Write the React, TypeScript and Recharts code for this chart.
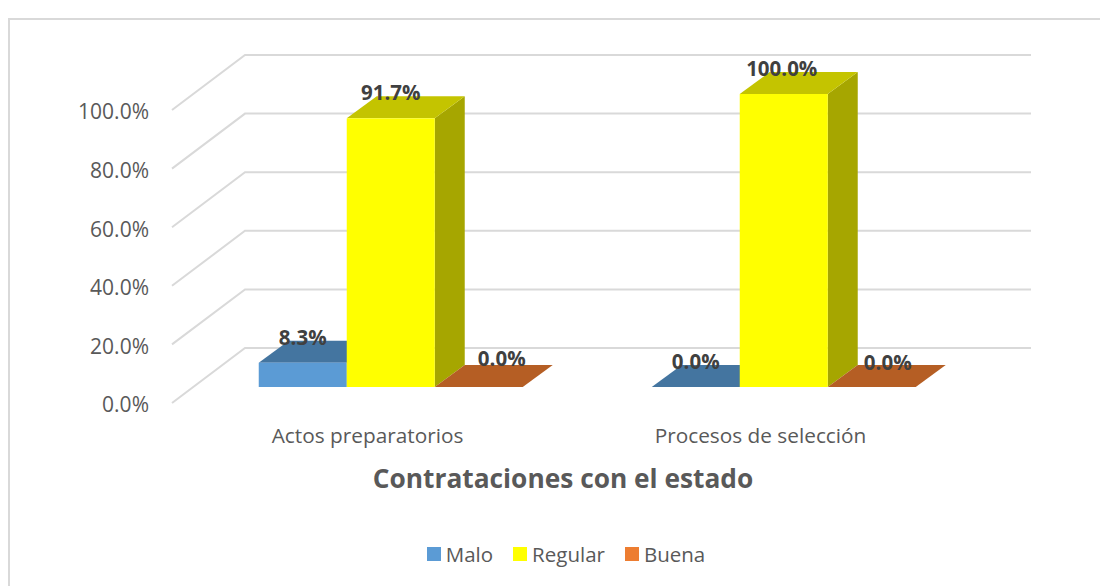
import { Bar, BarChart, CartesianGrid, Label, LabelList, Legend, XAxis, YAxis } from "recharts";

const categories = ["Actos preparatorios", "Procesos de selección"];
const malo = [8.3, 0];
const regular = [91.7, 100];
const buena = [0, 0];
const yTicks = [0, 20, 40, 60, 80, 100];

const data = categories.map((name, i) => ({
  name,
  Malo: malo[i],
  Regular: regular[i],
  Buena: buena[i],
}));

const FONT = "'Open Sans', sans-serif";
const TEXT = "#595959";
const GRID = "#D9D9D9";

// fake 3D: how far the back wall sits from the front of the floor
const WALL_DX = 73;
const WALL_DY = -55;
// bars stand part way into the floor
const BAR_DX = 21.5;
const BAR_DY = -16;
const DEPTH_DX = 30;
const DEPTH_DY = -22;

function prism(topColor: string, sideColor: string) {
  return function PrismBar({ x, y, width, height, fill }: any) {
    const left = x + BAR_DX;
    const right = left + width;
    const top = y + BAR_DY;
    const bottom = top + height;
    return (
      <g>
        {height > 0 && (
          <polygon
            points={`${right},${top} ${right + DEPTH_DX},${top + DEPTH_DY} ${right + DEPTH_DX},${bottom + DEPTH_DY} ${right},${bottom}`}
            fill={sideColor}
          />
        )}
        <polygon
          points={`${left},${top} ${right},${top} ${right + DEPTH_DX},${top + DEPTH_DY} ${left + DEPTH_DX},${top + DEPTH_DY}`}
          fill={topColor}
        />
        {height > 0 && <rect x={left} y={top} width={width} height={height} fill={fill} />}
      </g>
    );
  };
}

function barLabel(nudgeX: number[], nudgeY: number[]) {
  return function BarLabel({ x, y, width, value, index }: any) {
    return (
      <text
        x={x + BAR_DX + width / 2 + nudgeX[index]}
        y={y + BAR_DY - 26 + nudgeY[index]}
        textAnchor="middle"
        dominantBaseline="central"
        fontFamily={FONT}
        fontSize={20.5}
        fontWeight={700}
        fill="#404040"
      >
        {`${Number(value).toFixed(1)}%`}
      </text>
    );
  };
}

function WallLine({ x1, x2, y1 }: any) {
  return (
    <path
      key={y1}
      d={`M${x1},${y1} L${x1 + WALL_DX},${y1 + WALL_DY} L${x2 + WALL_DX},${y1 + WALL_DY}`}
      fill="none"
      stroke={GRID}
      strokeWidth={2}
    />
  );
}

function LegendRow({ payload }: any) {
  return (
    <div style={{ display: "flex", justifyContent: "center", gap: 20, fontFamily: FONT, fontSize: 20.5, color: TEXT }}>
      {payload.map((item: any) => (
        <span key={item.value} style={{ display: "flex", alignItems: "center", gap: 5 }}>
          <span style={{ width: 14, height: 14, background: item.color }} />
          {item.value}
        </span>
      ))}
    </div>
  );
}

export default function App() {
  return (
    <div style={{ position: "absolute", left: 0, top: 0, width: 1100, height: 586, background: "#fff" }}>
      <div
        style={{
          position: "absolute",
          left: 8,
          top: 18,
          width: 1092,
          height: 568,
          borderLeft: `2px solid ${GRID}`,
          borderTop: `2px solid ${GRID}`,
          boxSizing: "border-box",
        }}
      />
      <BarChart
        width={1100}
        height={586}
        data={data}
        margin={{ top: 110, right: 142, bottom: 115, left: 0 }}
        barCategoryGap="16.6%"
        barGap={0}
        style={{ position: "absolute" }}
      >
        <CartesianGrid vertical={false} horizontal={(props: any) => <WallLine {...props} />} />
        <XAxis
          dataKey="name"
          height={40}
          axisLine={false}
          tickLine={false}
          tickMargin={19}
          tick={{ fill: TEXT, fontSize: 20.8, fontFamily: FONT, dx: -1 }}
        >
          <Label
            value="Contrataciones con el estado"
            position="insideBottom"
            offset={-45}
            dx={-2}
            fill={TEXT}
            fontSize={26.3}
            fontWeight={700}
            fontFamily={FONT}
          />
        </XAxis>
        <YAxis
          width={172}
          domain={[0, 100]}
          ticks={yTicks}
          axisLine={false}
          tickLine={false}
          tickMargin={17}
          tickFormatter={(v) => `${v.toFixed(1)}%`}
          tick={{ fill: TEXT, fontSize: 21, fontFamily: FONT, dy: 2 }}
        />
        <Legend
          itemSorter={null}
          wrapperStyle={{ left: 0, width: 1132, top: 540 }}
          content={<LegendRow />}
        />
        <Bar dataKey="Malo" fill="#5B9BD5" isAnimationActive={false} shape={prism("#4475A0", "#3E6C95")}>
          <LabelList content={barLabel([0, 0], [0, 0])} />
        </Bar>
        <Bar dataKey="Regular" fill="#FFFF00" isAnimationActive={false} shape={prism("#C4C400", "#A6A600")}>
          <LabelList content={barLabel([0, -2], [0, 0])} />
        </Bar>
        <Bar dataKey="Buena" fill="#ED7D31" isAnimationActive={false} shape={prism("#B55E24", "#A05320")}>
          <LabelList content={barLabel([23, 16], [-3, 1])} />
        </Bar>
      </BarChart>
    </div>
  );
}
